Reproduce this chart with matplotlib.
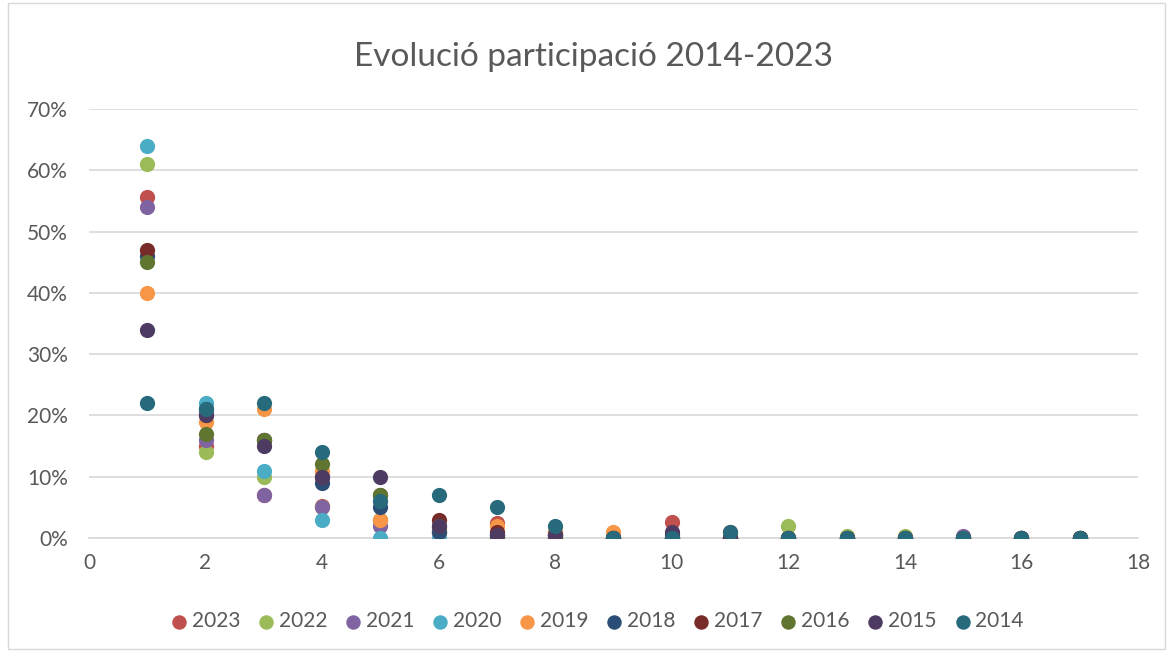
import matplotlib
matplotlib.use("Agg")
import matplotlib.pyplot as plt
from matplotlib.patches import Rectangle
from matplotlib.ticker import FuncFormatter

plt.rcParams['font.family'] = ['Lato', 'DejaVu Sans']

x_vals = list(range(1, 18))
years = ["2023", "2022", "2021", "2020", "2019", "2018", "2017", "2016", "2015", "2014"]
colors = ["#C0504D", "#9BBB59", "#8064A2", "#4BACC6", "#F79646",
          "#2C4D75", "#772C2A", "#5F7530", "#4D3B62", "#276A7C"]

s2023 = [55.7, 15, 7, 5.3, 3, 1.5, 2.5, 1, 0, 2.6, 1, 0, 0, 0, 0, 0, 0]
s2022 = [61, 14, 10, 5, 3, 1, 0, 0, 0, 0, 0, 2, 0.3, 0.3, 0, 0, 0]
s2021 = [54, 16, 7, 5, 2, 1, 0.5, 0.5, 0, 0, 0, 0, 0, 0, 0.4, 0, 0]
s2020 = [64, 22, 11, 3, 0, 0, 0, 0, 0, 0, 0, 0, 0, 0, 0, 0, 0]
s2019 = [40, 19, 21, 11, 3, 1, 2, 1, 1, 0, 0, 0, 0, 0, 0, 0, 0]
s2018 = [46, 21, 16, 9, 5, 1, 0.5, 0.5, 0, 0.5, 0, 0, 0, 0, 0, 0, 0]
s2017 = [47, 20, 16, 10, 7, 3, 1, 0.5, 0, 0, 0, 0, 0, 0, 0, 0, 0]
s2016 = [45, 17, 16, 12, 7, 2, 0, 0, 0, 0, 0, 0, 0, 0, 0, 0, 0]
s2015 = [34, 20, 15, 10, 10, 2, 0.5, 0.5, 0, 1, 0, 0, 0, 0, 0, 0, 0]
s2014 = [22, 21, 22, 14, 6, 7, 5, 2, 0, 0, 1, 0, 0, 0, 0, 0, 0]

series = [s2023, s2022, s2021, s2020, s2019, s2018, s2017, s2016, s2015, s2014]

x_ticks = list(range(0, 19, 2))
y_ticks = list(range(0, 71, 10))
title = "Evolució participació 2014-2023"

fig = plt.figure(figsize=(11.69, 6.52), dpi=100)
ax = fig.add_axes([0.0761, 0.1748, 0.8974, 0.658])

for yr, col, vals in zip(years, colors, series):
    ax.scatter(x_vals, vals, s=120, color=col, label=yr, zorder=3, linewidths=0)

ax.set_xlim(0, 18)
ax.set_ylim(0, 70)
ax.set_xticks(x_ticks)
ax.set_yticks(y_ticks)
ax.yaxis.set_major_formatter(FuncFormatter(lambda v, p: f"{int(v)}%"))
ax.grid(axis='y', color='#D9D9D9', linewidth=1.2, zorder=0)
ax.set_axisbelow(True)
for sp in ['top', 'right', 'left']:
    ax.spines[sp].set_visible(False)
ax.spines['bottom'].set_color('#D9D9D9')
ax.spines['bottom'].set_linewidth(1.2)
ax.tick_params(axis='both', length=0, labelsize=15, labelcolor='#595959', pad=11)
ax.tick_params(axis='y', pad=15)

fig.text(0.508, 0.912, title, ha='center', va='center', fontsize=24, color='#595959')

leg = fig.legend(loc='center', bbox_to_anchor=(0.51, 0.047), ncol=10, frameon=False,
                 fontsize=15, handletextpad=0.1, columnspacing=0.75, markerscale=0.95,
                 handlelength=1.0)
for t in leg.get_texts():
    t.set_color('#595959')

fig.patches.append(Rectangle((0.007, 0.005), 0.99, 0.99, transform=fig.transFigure,
                             fill=False, edgecolor='#D9D9D9', linewidth=1))

fig.savefig("out.png", dpi=100)
